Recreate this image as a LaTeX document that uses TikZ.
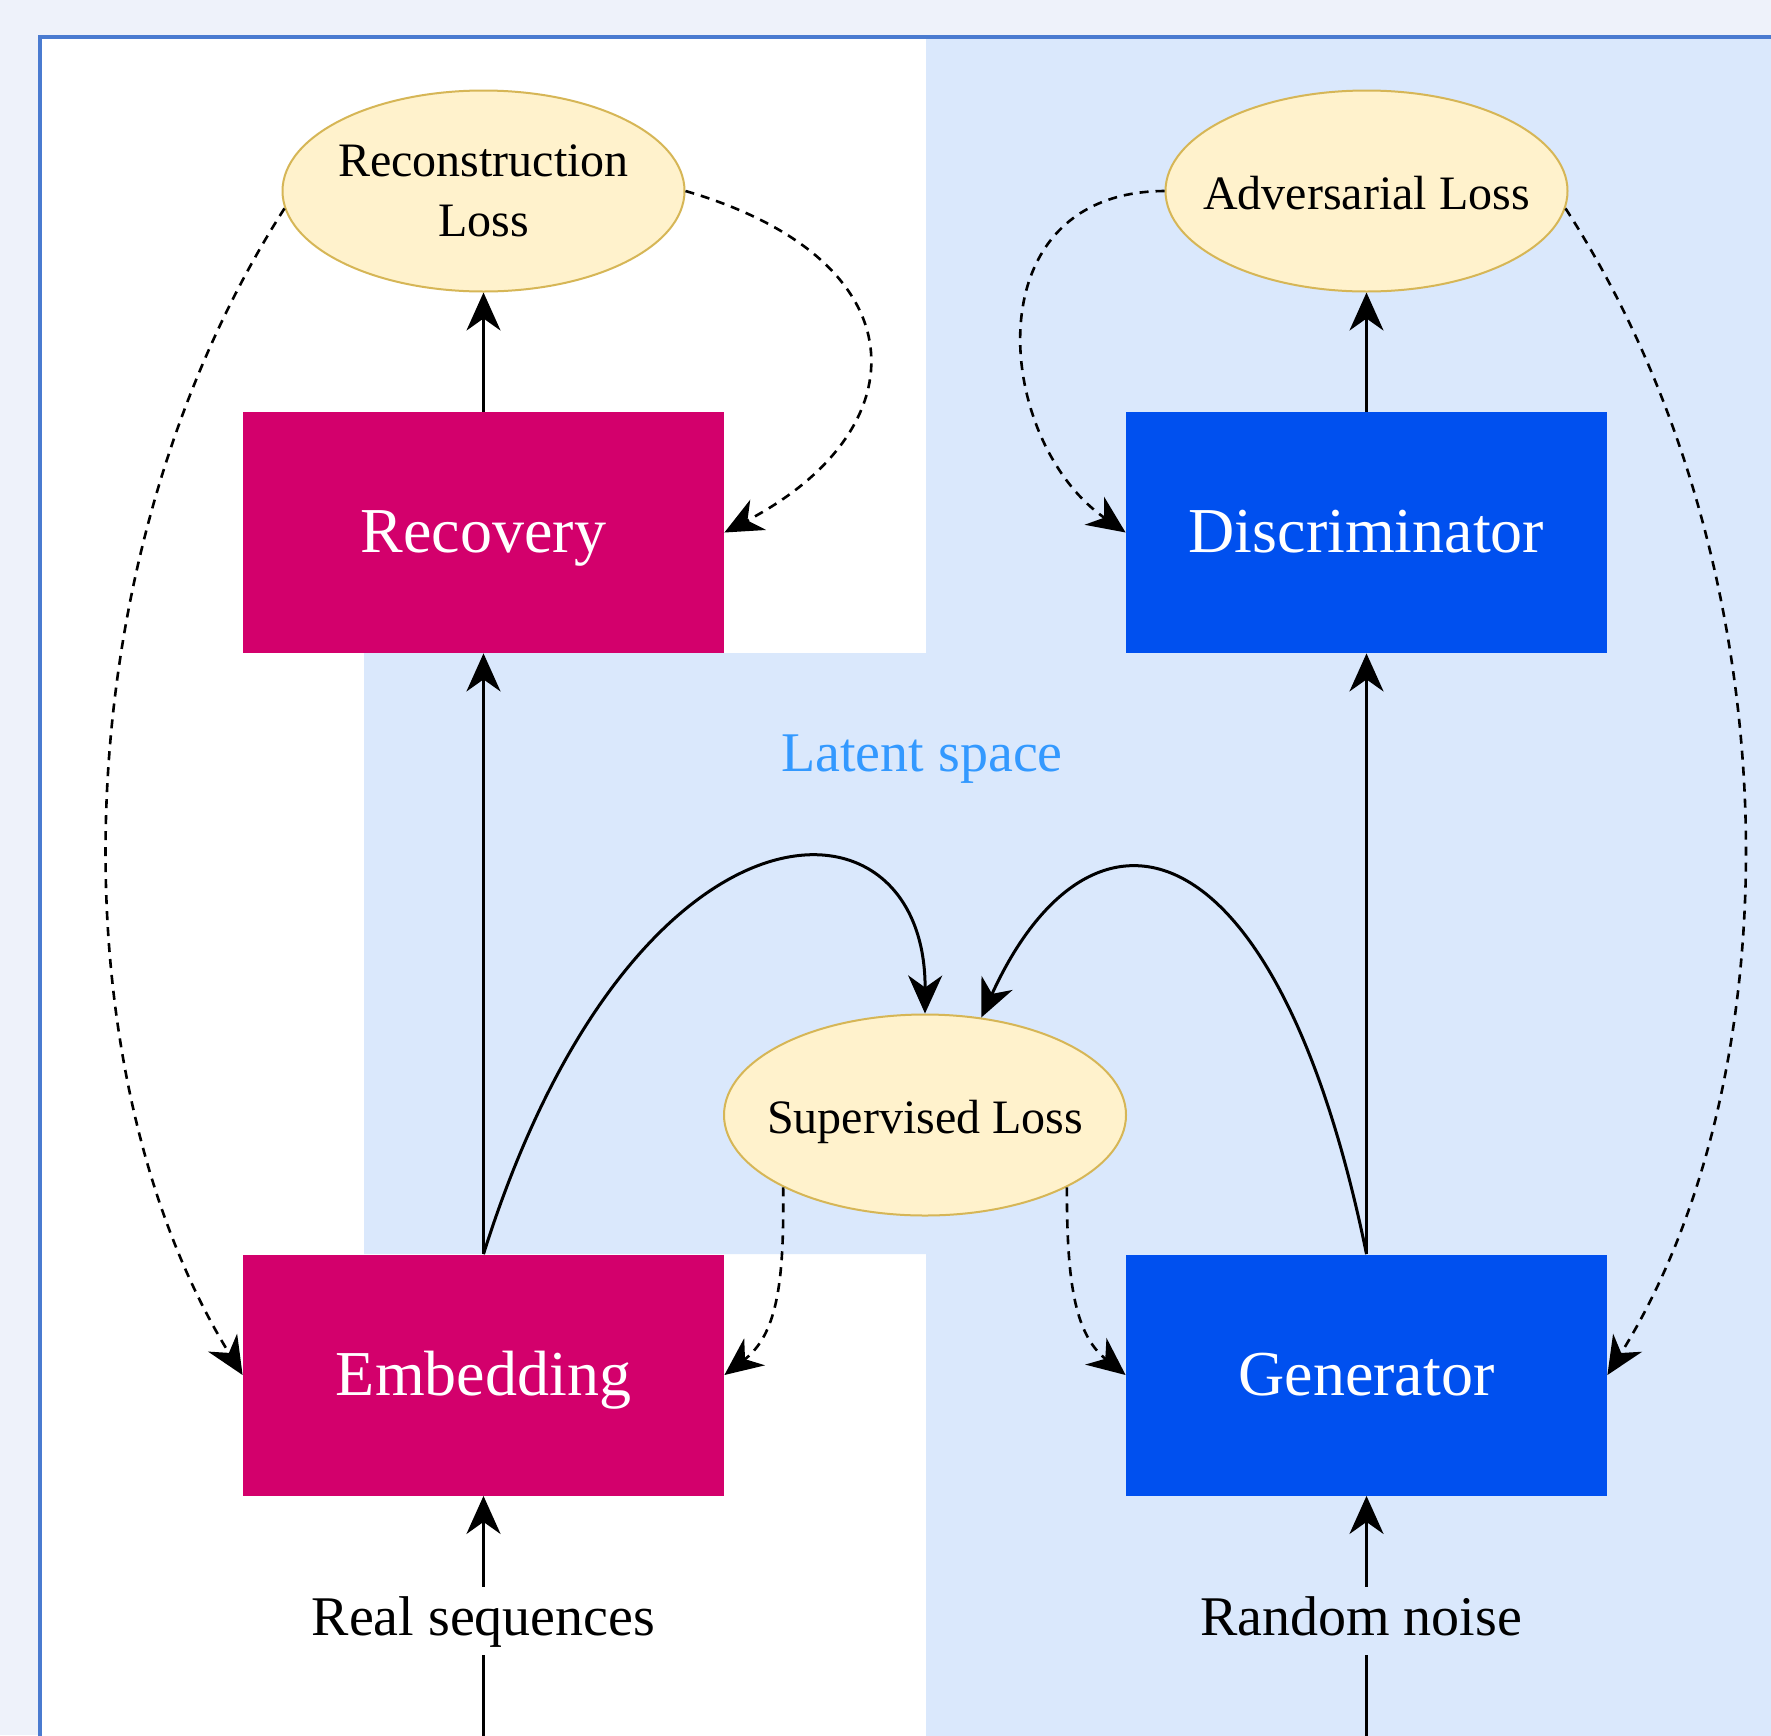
\documentclass[tikz,border=0pt]{standalone}
\usepackage{fontspec}
\setmainfont{Liberation Serif}
\usetikzlibrary{arrows.meta, shapes.geometric}
\definecolor{pagebg}{HTML}{EEF2FA}
\definecolor{framecol}{HTML}{4A7BD0}
\definecolor{latentcol}{HTML}{DAE8FC}
\definecolor{magentabox}{HTML}{D3006C}
\definecolor{bluebox}{HTML}{0050EF}
\definecolor{lossfill}{HTML}{FFF2CC}
\definecolor{lossdraw}{HTML}{D6B656}
\definecolor{latenttext}{HTML}{3399FF}
\tikzstyle{block} = [rectangle, minimum width=240.5pt, minimum height=120.5pt, inner sep=0pt, text height=24pt, text depth=4pt, text=white, font=\fontsize{32}{38}\selectfont]
\tikzstyle{encoder} = [block, fill=magentabox]
\tikzstyle{adversary} = [block, fill=bluebox]
\tikzstyle{loss} = [ellipse, draw=lossdraw, fill=lossfill, line width=1pt, minimum width=201pt, minimum height=100.5pt, inner xsep=-12pt, inner ysep=0pt, text height=20pt, text depth=2pt, align=center, font=\fontsize{24}{28}\selectfont]
\tikzstyle{inputtext} = [font=\fontsize{28}{34}\selectfont, text height=20pt, text depth=6pt, inner sep=4pt]
\tikzstyle{flow} = [-{Stealth[length=19pt, width=17pt, inset=6pt]}, line width=1.5pt]
\tikzstyle{feedback} = [flow, line width=1.3pt, dash pattern=on 4.5pt off 3.5pt]

\begin{document}
\begin{tikzpicture}[x=0.5pt, y=-0.5pt]
    % Canvas, frame and latent region.
    \useasboundingbox (0,0) rectangle (1771,1735);
    \fill [pagebg] (0,0) rectangle (1771,1735);
    \draw [framecol, fill=white, line width=2pt] (40,37) rectangle (1850,1800);
    \fill [latentcol] (926,39) -- (1850,39) -- (1850,1800) -- (926,1800) -- (926,1254) -- (364,1254) -- (364,653) -- (926,653) -- cycle;
    \node (latent) [text=latenttext, font=\fontsize{28}{34}\selectfont] at (922,759) {Latent space};

    % Networks.
    \node (recovery) [encoder] at (483.5,532.5) {Recovery};
    \node (embedding) [encoder] at (483.5,1375) {Embedding};
    \node (discriminator) [adversary] at (1366.5,532.5) {Discriminator};
    \node (generator) [adversary] at (1366.5,1375) {Generator};

    % Losses.
    \node (recloss) [loss, text height=, text depth=] at (483.5,191) {Reconstruction\\[2pt]Loss};
    \node (advloss) [loss] at (1366.5,191) {Adversarial Loss};
    \node (suploss) [loss] at (925,1115) {Supervised Loss};

    % Inputs.
    \coordinate (realin) at (483.5,1760);
    \coordinate (noisein) at (1366.5,1760);
    \node (real) [inputtext] at (483.5,1621) {Real sequences};
    \node (noise) [inputtext] at (1361,1621) {Random noise};

    % Arrows.
    \draw [line width=1.5pt] (realin) -- (real);
    \draw [line width=1.5pt] (noisein) -- (noisein |- noise.south);
    \draw [flow] (real) -- (embedding);
    \draw [flow] (noisein |- noise.north) -- (generator);
    \foreach\a/\b in {embedding/recovery, recovery/recloss, generator/discriminator, discriminator/advloss} {
        \draw [flow] (\a) -- (\b);
    }
    \draw [flow] (embedding.north) .. controls (633,779) and (926,779) .. (suploss.north);
    \draw [flow] (generator.north) .. controls (1276,813) and (1090,779) .. (suploss.60);

    % Feedback.
    \draw [feedback] (recloss.185) .. controls (56,565) and (56,1073) .. (embedding.west);
    \draw [feedback] (recloss.east) .. controls (922,260) and (922,429) .. (recovery.east);
    \draw [feedback] (advloss.west) .. controls (971,192) and (994,441) .. (discriminator.west);
    \draw [feedback] (advloss.355) .. controls (1796,565) and (1796,1073) .. (generator.east);
    \draw [feedback] (suploss.207) .. controls (784,1276) and (779,1333) .. (embedding.east);
    \draw [feedback] (suploss.333) .. controls (1067,1276) and (1073,1333) .. (generator.west);
\end{tikzpicture}
\end{document}
